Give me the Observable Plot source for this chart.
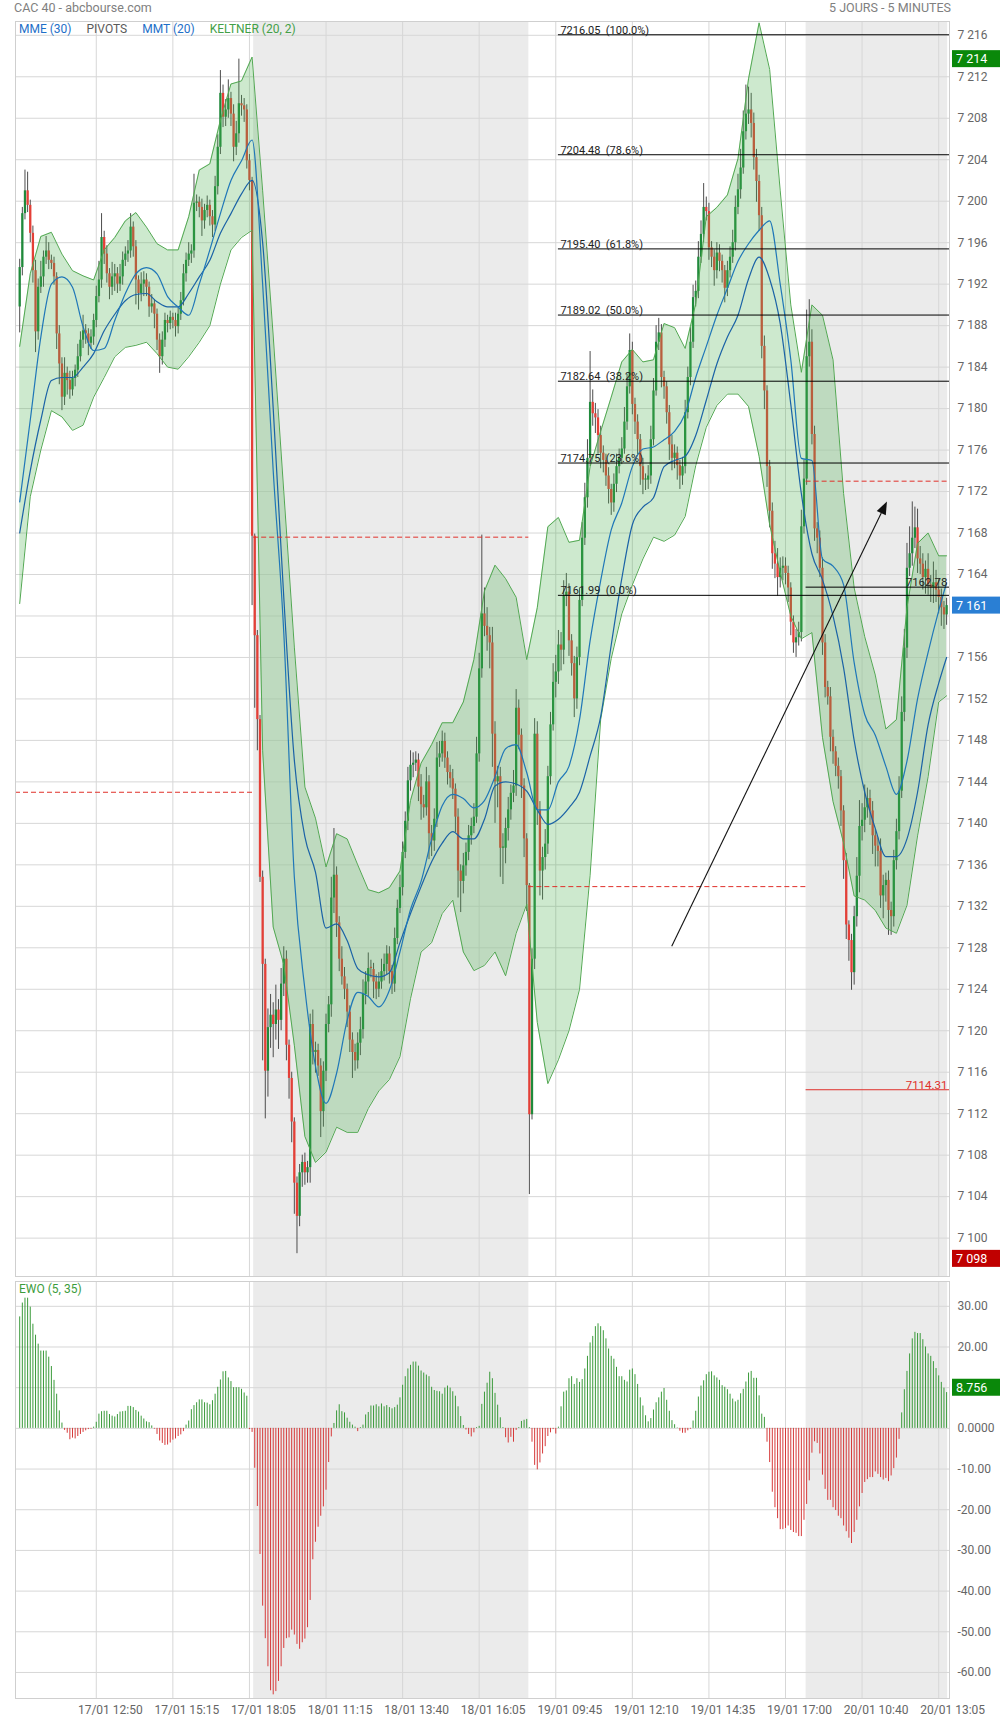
<!DOCTYPE html>
<html><head><meta charset="utf-8">
<script src="https://cdn.jsdelivr.net/npm/d3@7"></script>
<script src="https://cdn.jsdelivr.net/npm/@observablehq/plot@0.6"></script>
<style>
body{margin:0;background:#fff;font-family:Roboto,"Liberation Sans",sans-serif;}
#wrap{position:relative;width:1000px;height:1720px;overflow:hidden;}
.t{position:absolute;font-size:12.5px;color:#808080;line-height:14px;z-index:3;white-space:nowrap;}
#legend{position:absolute;left:19px;top:22px;font-size:12px;line-height:14px;z-index:3;white-space:nowrap;}
#legend span{margin-right:15px;}
#main,#ewo{position:absolute;left:0;z-index:1;}
</style></head><body>
<div id="wrap">
<div id="main" style="top:0"></div>
<div id="ewo" style="top:1280px"></div>
<div class="t" style="left:14px;top:1px">CAC 40 - abcbourse.com</div>
<div class="t" style="right:49px;top:1px">5 JOURS - 5 MINUTES</div>
<div id="legend"><span style="color:#1e6fc8">MME (30)</span><span style="color:#5a5a5a">PIVOTS</span><span style="color:#1e6fc8">MMT (20)</span><span style="color:#43a047">KELTNER (20, 2)</span></div>
<div class="t" style="left:19px;top:1282px;font-size:12px;color:#3c9c3c">EWO (5, 35)</div>
</div>
<script>
// ---------- DATA ----------
const firstOpen = 7189.8;
const closes = [
7193.6,7198.8,7201.0,7199.6,7196.9,7193.3,7187.4,7191.7,7192.7,7194.6,
7195.2,7194.3,7194.0,7192.7,7187.2,7184.3,7181.1,7183.4,7182.7,7181.8,
7182.9,7183.7,7185.0,7186.6,7187.5,7187.2,7186.3,7186.9,7188.5,7190.8,
7192.4,7196.5,7194.9,7193.0,7191.7,7192.7,7193.0,7192.0,7192.7,7194.3,
7194.9,7195.2,7197.5,7195.6,7192.4,7191.1,7192.0,7192.4,7191.7,7189.8,
7190.1,7189.1,7186.6,7185.0,7186.6,7188.5,7188.2,7188.8,7188.5,7187.9,
7189.1,7190.4,7193.0,7194.3,7194.9,7195.2,7199.8,7199.9,7199.4,7198.1,
7199.1,7199.6,7198.5,7197.7,7201.4,7205.2,7210.4,7208.1,7208.8,7209.9,
7208.4,7205.2,7206.5,7209.4,7209.2,7208.8,7203.9,7202.0,7167.7,
7158.1,7150.0,7134.8,7126.4,7116.1,7120.3,7121.5,7120.6,7122.0,7121.0,7124.5,
7126.9,7118.6,7115.4,7111.2,7105.3,7102.1,7106.3,7107.3,7106.3,7106.8,
7120.6,7117.9,7118.1,7116.6,7112.2,7116.1,7120.6,7122.5,7132.8,7135.0,
7130.4,7126.9,7125.2,7124.0,7121.8,7119.1,7117.9,7117.1,7118.8,7120.1,
7123.5,7124.7,7126.0,7125.9,7124.7,7124.0,7124.7,7125.7,7126.4,7127.4,
7125.7,7124.5,7128.9,7131.8,7133.8,7137.2,7140.2,7144.1,7145.6,7145.8,
7146.1,7143.5,7141.8,7141.5,7144.0,7139.0,7138.3,7140.4,7146.3,7146.7,
7147.9,7146.3,7144.9,7144.3,7143.3,7140.6,7135.4,7134.4,7135.9,7137.2,
7138.8,7139.7,7140.6,7146.7,7154.9,7160.2,7159.0,7158.1,7157.4,7148.6,
7144.0,7144.5,7137.6,7137.6,7139.5,7141.3,7142.9,7143.6,7151.1,7148.5,
7143.6,7138.5,7134.0,
7111.9,7126.9,7148.6,7141.3,7135.4,7136.7,7138.0,
7144.5,7149.5,7153.6,7154.6,7157.2,7156.7,7161.9,7162.3,7157.6,7155.4,
7152.0,7156.0,7161.5,7167.5,7171.4,7175.2,7180.6,7179.5,7179.1,7177.4,
7175.7,7175.0,7173.5,7172.2,7170.9,7172.7,7174.4,7175.2,7176.1,7178.7,
7182.1,7185.6,7180.4,7178.7,7177.0,7174.4,7173.1,7173.1,7173.5,7177.0,
7181.7,7186.4,7187.3,7183.0,7182.1,7179.6,7176.5,7175.2,7175.7,7174.5,
7173.5,7174.4,7179.6,7183.0,7186.4,7190.7,7191.3,7194.6,7196.8,7199.4,
7199.0,7195.5,7194.6,7193.3,7195.0,7194.2,7193.3,7191.6,7193.3,7194.6,
7196.0,7199.4,7201.1,7203.2,7206.7,7208.4,7208.8,7207.5,7204.2,7201.9,
7198.6,7186.0,7181.7,7174.4,7170.1,7166.0,7165.0,7163.7,7164.6,7164.8,
7164.1,7162.7,7159.4,7157.4,7157.9,7158.4,7168.6,7173.2,
7185.0,7186.4,
7177.5,7168.4,7167.5,7164.6,7157.4,7153.1,7152.2,7148.3,7146.9,7145.5,
7144.5,7141.2,7136.4,7130.2,7128.7,7125.6,7131.0,7134.9,7139.7,7140.3,
7141.5,7142.4,7141.2,7138.8,7137.8,7137.3,7133.0,7134.0,7134.5,7131.6,
7131.0,7136.4,7139.2,7143.1,7150.7,7156.9,7164.6,7166.0,7167.5,7168.5,
7165.5,7165.0,7163.7,7164.5,7163.0,7162.7,7163.2,7162.5,7161.8,7160.8,
7160.1,7161.0];
const hiW = [
0.8,0.6,2.0,1.8,0.5,0.7,1.0,0.8,1.5,0.6,1.4,0.8,0.5,0.6,0.4,0.8,0.6,1.5,0.6,0.9,
0.7,0.5,1.2,0.8,1.5,0.6,0.5,0.7,0.6,1.0,1.8,2.3,0.6,0.8,0.5,1.4,0.9,0.6,1.2,0.8,
0.7,1.0,1.3,0.5,0.6,0.4,1.1,0.8,0.6,0.5,0.9,0.4,0.5,0.6,0.8,0.7,0.5,0.6,0.4,0.7,
0.6,0.8,0.9,0.7,1.1,0.6,2.8,0.7,0.5,0.8,0.6,0.9,0.5,0.6,1.0,1.2,2.2,0.8,1.0,1.8,
0.6,0.9,1.2,4.3,0.8,0.7,0.5,0.6,0.3,0.2,0.5,0.4,0.6,0.5,1.8,2.0,1.2,2.4,1.0,1.5,
1.2,0.8,0.5,0.6,0.4,0.6,0.8,0.7,0.9,0.6,1.0,1.4,0.8,0.6,0.7,0.9,1.0,0.8,2.0,4.5,
0.8,0.6,1.2,0.9,0.5,0.6,0.7,0.8,1.0,1.2,1.4,1.0,1.5,0.8,0.6,0.7,0.9,1.2,1.0,0.8,
0.7,0.6,1.0,0.8,1.2,1.0,0.9,1.3,1.4,1.0,0.8,0.6,1.2,0.9,1.4,0.6,0.8,1.0,1.5,1.2,
1.0,0.8,0.6,0.7,0.9,0.5,0.8,0.6,1.2,0.9,1.0,0.8,1.3,1.6,1.5,7.6,2.5,1.8,0.8,1.5,
1.2,1.0,0.9,1.4,1.0,1.2,0.8,1.5,1.8,0.8,0.6,0.7,0.5,0.2,1.0,1.5,1.2,0.8,1.0,1.4,
1.0,1.2,1.8,1.6,1.4,1.2,1.5,1.8,0.8,0.6,0.7,1.0,1.2,1.5,1.4,1.8,4.9,1.2,1.0,0.8,
0.9,0.7,0.6,0.8,0.5,1.0,1.2,0.9,1.1,1.4,1.2,1.6,0.8,0.6,0.7,0.5,0.8,0.6,1.0,1.3,
1.2,1.6,1.4,0.8,0.6,0.5,0.7,0.9,0.8,0.6,0.5,0.9,1.2,1.0,1.4,1.2,1.0,1.5,1.3,2.3,
1.0,0.8,0.6,0.7,1.0,0.8,0.6,0.5,0.9,1.0,1.2,1.1,1.5,1.8,2.0,2.8,2.2,1.6,1.0,0.8,
0.6,0.8,1.0,0.5,0.6,0.8,1.2,1.5,1.0,0.9,0.8,0.7,0.5,0.6,0.8,1.0,1.6,1.8,4.5,4.1,
1.2,0.8,0.6,0.7,1.0,0.8,0.6,0.9,0.7,0.5,0.8,0.6,0.5,0.7,0.4,0.6,1.0,1.8,2.5,1.6,
2.2,1.0,0.8,0.9,0.6,0.8,1.2,1.0,0.7,0.9,0.8,1.0,1.2,1.4,1.5,1.8,2.4,2.6,3.5,2.0,
1.8,1.2,1.0,0.8,1.5,0.9,2.0,1.2,1.0,0.8,0.6,0.7];
const loW = [
2.5,0.8,0.6,0.7,0.9,1.2,2.0,0.8,0.6,1.0,0.7,0.9,0.6,0.8,1.5,2.0,1.3,0.8,1.4,0.9,
0.6,0.8,0.7,0.5,0.8,1.0,1.2,0.6,0.8,0.7,0.6,0.8,1.0,0.9,1.2,0.8,1.4,0.9,0.7,0.8,
0.6,0.8,0.7,1.0,2.4,1.6,0.8,1.2,0.9,1.0,0.6,1.4,1.0,1.6,0.8,0.7,0.9,0.6,0.8,1.0,
0.7,0.6,0.5,0.8,0.6,0.9,0.7,0.8,1.0,1.5,0.8,0.7,0.9,1.2,0.6,0.8,0.7,1.0,0.9,0.8,
1.2,1.4,0.8,0.9,1.0,1.2,0.8,1.0,6.7,7.0,3.0,0.5,9.3,4.6,2.5,2.0,3.2,1.5,2.8,1.0,
1.2,1.5,2.0,2.0,3.0,3.6,1.0,1.4,1.2,1.0,1.5,1.2,2.0,1.0,2.5,1.5,1.0,0.8,1.2,1.5,
1.4,1.2,0.8,1.0,1.5,1.2,2.5,1.0,0.8,1.2,0.9,1.0,1.4,0.8,1.6,1.0,0.8,0.7,0.9,1.0,
1.2,1.0,0.8,0.6,0.5,0.8,0.6,0.9,1.0,1.2,0.8,1.4,1.5,1.0,0.8,2.5,1.5,1.0,0.8,0.9,
0.8,1.0,1.2,0.9,1.0,1.5,2.6,3.0,1.2,1.0,0.8,0.9,0.7,0.6,0.8,0.9,1.0,1.5,2.5,3.2,
4.0,2.5,2.8,3.5,1.5,1.2,1.0,0.9,1.0,1.4,1.2,1.8,2.5,7.7,0.5,1.0,1.5,2.4,2.8,1.2,
1.0,0.8,0.6,1.5,1.2,2.0,1.4,1.0,1.5,1.2,1.8,1.0,0.8,0.6,0.7,1.0,0.8,1.2,1.5,1.8,
1.5,1.2,1.0,1.4,1.2,0.9,0.8,0.7,0.6,0.5,0.8,0.7,1.0,1.2,1.5,1.8,1.4,1.0,0.9,0.8,
0.6,0.5,0.8,1.0,1.2,1.1,1.5,1.2,1.0,1.4,1.3,0.9,0.7,0.6,0.8,0.6,0.9,0.7,0.6,0.8,
0.9,1.2,1.0,1.5,0.8,1.0,1.2,1.4,0.8,0.7,0.6,0.8,0.7,0.9,0.6,0.8,1.0,1.4,1.2,2.0,
1.5,1.2,1.8,2.0,1.6,1.5,1.4,1.8,1.0,1.2,1.1,1.4,1.3,1.0,1.4,0.8,0.9,0.7,0.6,1.0,
1.0,1.2,1.5,0.9,1.2,1.0,0.8,1.4,1.2,1.0,1.2,1.5,1.8,1.4,2.0,1.7,1.2,1.0,1.6,1.4,
1.2,1.0,1.4,1.8,2.0,1.5,1.2,2.2,1.6,2.4,1.8,1.0,0.9,0.8,0.7,0.9,1.0,0.8,1.2,1.0,
1.4,1.0,1.2,1.6,1.0,1.4,1.5,1.2,1.6,1.8,1.4,1.0];

// indicator samples (bar index of each sample)
const sampleBars = [0,4,8,12,16,20,24,28,32,36,40,44,48,52,56,60,64,68,72,76,80,84,88,92,96,100,104,108,112,116,
120,124,128,132,136,140,144,148,152,156,160,164,168,172,176,180,184,188,192,196,200,204,208,212,216,220,224,228,232,236,
240,244,248,252,256,260,264,268,272,276,280,284,288,292,296,300,304,308,312,316,320,324,328,332,336,340,344,348,351];
const keltnerUpper = [7186.0,7193.0,7196.6,7197.0,7194.9,7193.3,7192.8,7192.4,7195.3,7196.5,
7198.1,7198.9,7197.5,7195.9,7195.3,7195.3,7198.5,7203.0,7203.6,7207.8,
7211.3,7211.6,7213.9,7201.0,7187.0,7172.0,7157.0,7143.5,7140.5,7135.8,
7139.0,7138.5,7136.0,7133.6,7133.3,7133.8,7135.4,7142.2,7145.8,7147.6,
7149.7,7149.7,7151.7,7155.8,7162.4,7164.9,7163.6,7161.8,7155.8,7160.8,
7168.6,7169.5,7167.1,7167.3,7174.4,7177.8,7181.1,7184.5,7185.7,7184.5,
7184.7,7188.2,7187.8,7185.8,7190.1,7198.5,7199.4,7200.6,7204.1,7211.8,
7217.2,7212.7,7201.0,7190.0,7183.5,7190.0,7189.0,7184.7,7171.8,7162.7,
7158.0,7154.3,7149.1,7150.0,7160.8,7167.0,7168.0,7165.8,7165.8];
const keltnerLower = [7161.2,7171.5,7176.0,7179.8,7179.2,7177.9,7178.4,7181.1,7183.0,7185.0,
7185.9,7186.1,7186.4,7185.3,7184.0,7183.8,7185.0,7186.4,7188.0,7192.0,
7195.3,7196.5,7197.2,7147.0,7130.0,7126.4,7118.6,7109.8,7107.3,7108.3,
7110.7,7110.2,7110.2,7112.5,7114.2,7115.3,7117.5,7123.1,7127.6,7128.5,
7131.3,7132.6,7127.6,7125.8,7126.3,7127.6,7125.3,7129.4,7132.2,7120.8,
7114.9,7117.2,7120.0,7124.0,7135.0,7150.0,7155.9,7160.2,7163.0,7165.5,
7167.6,7167.2,7167.8,7169.6,7174.5,7178.2,7180.3,7181.4,7181.4,7180.2,
7175.4,7168.8,7164.2,7160.0,7157.8,7158.4,7148.3,7142.1,7138.1,7133.0,
7132.6,7131.6,7129.9,7129.4,7132.1,7138.8,7144.5,7151.7,7152.3];
const mmt20 = [7171.0,7178.9,7186.9,7192.0,7192.7,7191.7,7187.9,7185.6,7185.8,7188.5,
7191.1,7193.0,7193.6,7193.0,7190.8,7189.8,7189.0,7192.0,7195.3,7198.8,
7202.0,7203.9,7205.9,7192.0,7174.0,7158.4,7134.8,7124.0,7116.6,7113.0,
7115.9,7121.0,7123.7,7123.3,7122.3,7123.9,7127.6,7131.7,7134.4,7138.5,
7141.7,7142.8,7142.4,7141.5,7142.2,7144.5,7147.2,7147.6,7144.9,7141.3,
7141.3,7144.0,7145.5,7150.0,7157.6,7163.4,7168.3,7170.9,7174.4,7176.1,
7176.3,7177.0,7177.8,7179.5,7183.0,7186.0,7189.0,7191.6,7194.2,7195.9,
7197.2,7198.1,7192.0,7184.7,7175.2,7175.0,7165.5,7164.8,7163.0,7155.5,
7150.5,7148.5,7145.5,7142.8,7146.0,7152.0,7156.5,7160.5,7163.2];
const mme30 = [7168.0,7174.0,7178.9,7182.7,7183.0,7183.0,7184.0,7185.3,7187.5,7189.1,
7190.4,7191.0,7191.1,7190.3,7189.8,7189.8,7191.1,7192.7,7194.3,7196.9,
7198.8,7200.7,7202.0,7196.0,7180.0,7161.8,7146.1,7138.7,7135.3,7129.9,
7130.3,7128.7,7126.0,7125.4,7125.2,7125.6,7128.5,7131.3,7133.9,7136.3,
7138.1,7139.2,7138.5,7138.5,7140.4,7143.6,7144.0,7143.8,7143.1,7141.3,
7139.9,7140.4,7141.5,7143.0,7146.5,7150.3,7157.2,7163.6,7168.8,7170.5,
7171.4,7174.4,7175.0,7175.4,7177.4,7180.8,7184.3,7186.9,7189.0,7192.5,
7194.6,7192.5,7188.2,7180.4,7171.8,7166.0,7163.5,7160.0,7155.0,7148.0,
7143.0,7139.5,7136.8,7136.8,7138.5,7143.0,7149.5,7153.5,7156.0];

const ewo = [
27.4,30.8,32,32,29.8,25.6,22.9,20.7,19,19,19,17.5,15.2,11.8,8.4,4.3,1.3,
-0.5,-1.2,-2.8,-2.4,-2.6,-2,-1.5,-1,-0.6,-0.3,-0.2,
0.3,1.5,3.5,4.1,4.2,4.2,3.4,3.0,2.8,3.4,4.0,4.1,4.2,5.4,5.4,5.1,4.4,4.0,3.0,2.3,1.6,1.4,0.6,
-0.2,-1.5,-3.1,-3.7,-4.2,-4.1,-3.6,-2.9,-2.6,-2.0,-1.6,-0.8,
0.8,1.8,4.6,5.6,6.3,7.0,7.0,6.3,6.2,5.8,6.8,8.4,10.1,11.9,13.9,14.0,12.4,11.5,10.0,10.0,10.0,9.6,8.7,7.9,
-0.3,-1.0,-9.8,-19.2,-31,-43.7,-51.7,-58.6,-64.5,-65.5,-64.7,-62.2,-58.6,-54.1,-51.7,-51.5,-49.6,-50.8,-53.1,-54.3,-52.7,-51.8,-49,-42.3,-32.3,-28,-24.3,-21.6,-19.3,-15.2,-8.4,-2.1,
1.2,4.3,5.8,4.1,3.8,2.5,1.5,0.8,0.3,-0.8,
0.2,0.8,3.3,3.9,5.5,5.5,5.8,5.3,6.0,5.3,5.6,5.1,4.8,5.1,5.7,7.5,10.6,12.7,14.6,15.5,16.3,16.3,15.3,14.1,13.6,13.1,12.7,10.1,9.3,9.1,9.0,8.4,9.9,10.4,9.9,9.0,7.9,5.3,2.9,0.7,-0.4,-1.5,-2.1,-1.1,0.2,0.5,5.9,8.9,11.1,
13.8,12.2,8.6,5.7,2.6,0.2,-2.3,-3.6,-2.2,-3.4,-0.5,0.2,1.7,2.0,2.2,0.2,-3.4,-9.1,-10.2,-8.5,-6.3,-4.5,-2.0,-1.1,-0.3,-1.4,
0.3,5.3,8.9,9.2,12.2,12.7,10.8,12.2,11.3,12.0,14.6,17.7,21.0,22.6,25.0,25.7,25.0,24.0,22.0,19.5,
17.7,17.0,15.0,12.7,12.7,11.8,11.4,14.3,14.6,13.2,10.8,7.5,5.5,3.1,1.6,2.4,4.5,6.3,7.5,8.9,
9.8,6.9,4.2,1.9,0.9,0.1,-0.7,-1.2,-1.2,-0.6,-0.2,1.8,4.2,7.7,10.4,11.7,13.2,13.8,13.9,12.9,
12.4,11.8,10.5,10.1,9.5,8.4,7.2,6.5,6.9,8.5,9.6,11.4,13.6,14.0,12.3,12.3,8.0,3.5,2.7,
-3.4,-8.4,-15.7,-19.5,-22.2,-24.9,-24.9,-24.6,-24.0,-25.1,-25.6,-25.8,-26.6,-26.6,-22.6,-18.7,-12.9,-6.1,-3.3,-3.7,-6.3,-11.5,-15.0,-17.7,-17.7,-19.5,-20.2,-21.6,-22.2,-24.0,-25.4,-27.0,-28.3,
-25.6,-22.6,-19.3,-16,-13.3,-12.6,-12.1,-12.1,-10.7,-11.3,-12.1,-12.7,-12.3,-13.1,-11.7,-9.9,-7.3,-2.7,
3.8,9.5,14,18.3,22,23.6,23.3,23.3,21.8,20,18.3,17.7,16.4,14.7,12.9,11.3,9.9,8.8];

const xTicks = [29,58,87,116,145,174,203,232,261,290,319,348];
const xLabels = ["17/01 12:50","17/01 15:15","17/01 18:05","18/01 11:15","18/01 13:40","18/01 16:05","19/01 09:45","19/01 12:10","19/01 14:35","19/01 17:00","20/01 10:40","20/01 13:05"];
const yTicks = [7100,7104,7108,7112,7116,7120,7124,7128,7132,7136,7140,7144,7148,7152,7156,7160,7164,7168,7172,7176,7180,7184,7188,7192,7196,7200,7204,7208,7212,7216];
const yHiddenLabels = [7160];          // covered by the last-price box in the reference
const ewoTicks = [30,20,10,0,-10,-20,-30,-40,-50,-60];
const ewoHiddenLabels = [10];          // covered by the last-value box in the reference
const dayStarts = [-1.59, 88.6, 192.8, 297.8, 352.1];
const shadedDays = [{a:88.6,b:192.8},{a:297.8,b:351.4}];
const pivotLevels = [7143.0, 7167.6, 7133.9, 7173.0];
const fibStart = 204;
const fibLevels = [7216.05, 7204.48, 7195.40, 7189.02, 7182.64, 7174.75, 7161.99];
const fibPct = ["100.0%","78.6%","61.8%","50.0%","38.2%","23.6%","0.0%"];
const extraLevel = {v:7162.78, from:297.8};
const supportLevel = {v:7114.31, from:297.8};
const arrowLine = {k1:247.1, v1:7128.1, k2:328.6, v2:7171.0};
const priceBoxes = [{v:7213.7,label:"7 214",fill:"#0a880a"},{v:7161.0,label:"7 161",fill:"#2a7fd4"},{v:7098.0,label:"7 098",fill:"#c00000"}];
const ewoBoxes = [{v:8.756,label:"8.756",fill:"#0a880a",dy:-5}];

// ---------- BUILD ----------
const xDomain = [-1.59, 352.1];
const UP = "#1f8a3b", DOWN = "#e43f37", GRID = "#d7d7d7";
const bars = closes.map((c,k)=>{const o = k===0?firstOpen:closes[k-1];return {k,o,c,h:Math.max(o,c)+hiW[k],l:Math.min(o,c)-loW[k]};});
const bodyEnd = d => Math.abs(d.c-d.o)<0.12 ? d.o+0.12 : d.c;
const ind = sampleBars.map((k,i)=>({k,hi:keltnerUpper[i],lo:keltnerLower[i],a:mmt20[i],b:mme30[i]}));
const pivots = pivotLevels.map((v,i)=>({v,a:dayStarts[i],b:dayStarts[i+1]}));
const fibs = fibLevels.map((v,i)=>({v,k:fibStart,k2:xDomain[1],label:`${v.toFixed(2)}  (${fibPct[i]})`}));
const fmtK = d => String(d).replace(/^(\d)(\d{3})$/,"$1 $2");

function boxMark(list){
  return (index, scales, values, dims) => {
    const g = d3.create("svg:g");
    const x0 = dims.width - dims.marginRight + 3;
    for (const b of list){
      const yy = scales.y(b.v) + (b.dy||0);
      g.append("rect").attr("x",x0).attr("y",yy-8.5).attr("width",dims.width-x0).attr("height",17).attr("fill",b.fill);
      g.append("text").attr("x",x0+4).attr("y",yy).attr("dy","0.36em").attr("fill","#fff")
        .attr("text-anchor","start").attr("font-size",12.5).attr("font-family","Roboto, sans-serif").text(b.label);
    }
    return g.node();
  };
}
function arrowMark(index, scales){
  const x1=scales.x(arrowLine.k1), y1=scales.y(arrowLine.v1), x2=scales.x(arrowLine.k2), y2=scales.y(arrowLine.v2);
  const ang=Math.atan2(y2-y1,x2-x1), L=13, Wd=5;
  const bx=x2-L*Math.cos(ang), by=y2-L*Math.sin(ang);
  const px=-Math.sin(ang)*Wd, py=Math.cos(ang)*Wd;
  const g=d3.create("svg:g");
  g.append("line").attr("x1",x1).attr("y1",y1).attr("x2",bx).attr("y2",by).attr("stroke","#111").attr("stroke-width",1.1);
  g.append("path").attr("d",`M${x2},${y2}L${bx+px},${by+py}L${bx-px},${by-py}Z`).attr("fill","#111");
  return g.node();
}

const common = {style:{fontFamily:"Roboto, sans-serif",fontSize:"12px",color:"#666",background:"transparent",overflow:"visible"}};

const main = Plot.plot({
  ...common,
  width:1000, height:1280, marginTop:21, marginBottom:4, marginLeft:15, marginRight:51,
  x:{domain:xDomain, axis:null},
  y:{domain:[7096.3,7217.33], label:null},
  marks:[
    Plot.rect(shadedDays,{x1:"a",x2:"b",fill:"#ebebeb"}),
    Plot.gridY(yTicks,{stroke:GRID,strokeOpacity:1}),
    Plot.gridX(xTicks,{stroke:GRID,strokeOpacity:1}),
    Plot.ruleX(bars,{x:"k",y1:"l",y2:"h",stroke:"#4d4d4d",strokeWidth:1}),
    Plot.ruleX(bars.filter(d=>d.c>=d.o),{x:"k",y1:"o",y2:bodyEnd,stroke:UP,strokeWidth:2.3}),
    Plot.ruleX(bars.filter(d=>d.c<d.o),{x:"k",y1:"o",y2:bodyEnd,stroke:DOWN,strokeWidth:2.3}),
    Plot.areaY(ind,{x:"k",y1:"lo",y2:"hi",fill:"#4caf50",fillOpacity:0.28,clip:true}),
    Plot.line(ind,{x:"k",y:"hi",stroke:"#52a852",strokeWidth:1,clip:true}),
    Plot.line(ind,{x:"k",y:"lo",stroke:"#52a852",strokeWidth:1,clip:true}),
    Plot.line(ind,{x:"k",y:"b",stroke:"#1a62a6",strokeWidth:1.2,curve:"monotone-x",clip:true}),
    Plot.line(ind,{x:"k",y:"a",stroke:"#1f77b8",strokeWidth:1.2,curve:"monotone-x",clip:true}),
    Plot.ruleY(pivots,{y:"v",x1:"a",x2:"b",stroke:"#e0302a",strokeWidth:1,strokeDasharray:"5,3"}),
    Plot.ruleY([supportLevel],{y:"v",x1:"from",x2:()=>xDomain[1],stroke:"#e0302a",strokeWidth:1}),
    Plot.text([supportLevel],{x:()=>xDomain[1],y:"v",text:d=>d.v.toFixed(2),textAnchor:"end",lineAnchor:"bottom",dx:-2,dy:-1,fill:"#e0302a",fontSize:11.5}),
    Plot.ruleY(fibs,{y:"v",x1:"k",x2:"k2",stroke:"#000",strokeWidth:1}),
    Plot.text(fibs,{x:"k",y:"v",text:"label",textAnchor:"start",lineAnchor:"bottom",dx:2,dy:-1,fill:"#222",fontSize:11}),
    Plot.ruleY([extraLevel],{y:"v",x1:"from",x2:()=>xDomain[1],stroke:"#000",strokeWidth:1}),
    Plot.text([extraLevel],{x:()=>xDomain[1],y:"v",text:d=>d.v.toFixed(2),textAnchor:"end",lineAnchor:"bottom",dx:-2,dy:-1,fill:"#222",fontSize:11.5}),
    arrowMark,
    Plot.frame({stroke:"#cfcfcf"}),
    Plot.axisY(yTicks.filter(t=>!yHiddenLabels.includes(t)),{anchor:"right",tickSize:0,tickPadding:8,tickFormat:fmtK,fontSize:12,label:null}),
    boxMark(priceBoxes)
  ]
});
document.getElementById("main").appendChild(main);

const ewoData = ewo.map((v,k)=>({k,v}));
const ewoPlot = Plot.plot({
  ...common,
  width:1000, height:440, marginTop:1, marginBottom:22, marginLeft:15, marginRight:51,
  x:{domain:xDomain, label:null},
  y:{domain:[-66.4,36.1], label:null},
  marks:[
    Plot.rect(shadedDays,{x1:"a",x2:"b",fill:"#ebebeb"}),
    Plot.gridY(ewoTicks,{stroke:GRID,strokeOpacity:1}),
    Plot.gridX(xTicks,{stroke:GRID,strokeOpacity:1}),
    Plot.ruleX(ewoData.filter(d=>d.v>=0),{x:"k",y1:0,y2:"v",stroke:"#3a9a3a",strokeWidth:1}),
    Plot.ruleX(ewoData.filter(d=>d.v<0),{x:"k",y1:0,y2:"v",stroke:"#d63a3a",strokeWidth:1}),
    Plot.frame({stroke:"#cfcfcf"}),
    Plot.axisY(ewoTicks.filter(t=>!ewoHiddenLabels.includes(t)),{anchor:"right",tickSize:0,tickPadding:8,tickFormat:d=>d===0?"0.0000":d.toFixed(2),fontSize:12,label:null}),
    Plot.axisX(xTicks,{anchor:"bottom",tickSize:0,tickPadding:7,dx:14,tickFormat:d=>xLabels[xTicks.indexOf(d)],fontSize:12,label:null}),
    boxMark(ewoBoxes)
  ]
});
document.getElementById("ewo").appendChild(ewoPlot);
</script>
</body></html>
